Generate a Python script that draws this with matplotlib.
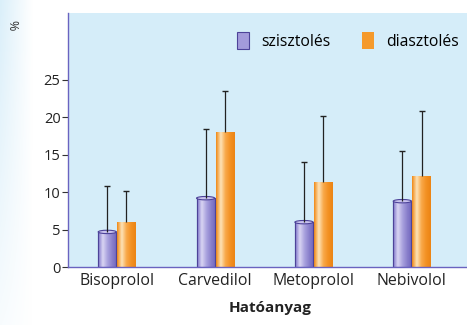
import numpy as np
import matplotlib
matplotlib.use("Agg")
import matplotlib.pyplot as plt
from matplotlib.colors import LinearSegmentedColormap
from matplotlib.patches import Patch, Ellipse

plt.rcParams['font.family'] = ['Open Sans', 'DejaVu Sans']

# data
categories = ['Bisoprolol', 'Carvedilol', 'Metoprolol', 'Nebivolol']
systolic = [4.7, 9.2, 6.0, 8.8]
diastolic = [6.0, 18.0, 11.4, 12.1]
systolic_err = [6.1, 9.2, 8.0, 6.7]
diastolic_err = [4.1, 5.5, 8.7, 8.7]
yticks = [0, 5, 10, 15, 20, 25]
series_names = ['szisztolés', 'diasztolés']

purple_cmap = LinearSegmentedColormap.from_list(
    'pur', ['#7d73c9', '#d9d5f3', '#aaa3de', '#8a80cc', '#6f65bd'])
orange_cmap = LinearSegmentedColormap.from_list(
    'ora', ['#f08a18', '#fde3b8', '#f9a94a', '#f39123', '#ec8414'])

fig = plt.figure(figsize=(4.67, 3.25), dpi=100)

# faint blue gradient strip at the left edge
bg = fig.add_axes([0, 0, 0.07, 1], zorder=0)
gx = np.linspace(1, 0, 50)
gy = np.linspace(1, 0.2, 100)[:, None]
alpha = np.clip(gx[None, :] * gy, 0, 1) * 0.9
img = np.zeros((100, 50, 4))
img[..., 0] = 0.84
img[..., 1] = 0.93
img[..., 2] = 0.98
img[..., 3] = alpha
bg.imshow(img, aspect='auto', extent=[0, 1, 0, 1])
bg.axis('off')

ax = fig.add_axes([0.146, 0.178, 0.854, 0.782], zorder=1)
ax.set_facecolor('#d5edf9')

x = np.arange(len(categories))
w = 0.185
off = 0.0975

bars_s = ax.bar(x - off, systolic, w, color='#a39bdb', edgecolor='#4d4399', lw=0.8, zorder=2)
bars_d = ax.bar(x + off, diastolic, w, color='#f59a2c', edgecolor='none', zorder=2)

# cylinder-like shading inside each bar
grad = np.linspace(0, 1, 64)[None, :]
for bars, cmap in [(bars_s, purple_cmap), (bars_d, orange_cmap)]:
    for b in bars:
        x0, y0 = b.get_x(), b.get_y()
        im = ax.imshow(grad, cmap=cmap, aspect='auto', zorder=2.1,
                       extent=[x0, x0 + b.get_width(), y0, y0 + b.get_height()])
        im.set_clip_path(b)
for b in bars_s:
    ax.bar(b.get_x() + b.get_width() / 2, b.get_height(), b.get_width(),
           facecolor='none', edgecolor='#4d4399', lw=0.8, zorder=2.2)
    ax.add_patch(Ellipse((b.get_x() + b.get_width() / 2, b.get_height()), b.get_width(), 0.45,
                         facecolor='#c9c3ee', edgecolor='#4d4399', lw=0.8, zorder=2.3))

# upper error bars only
for xs, vals, errs in [(x - off, systolic, systolic_err), (x + off, diastolic, diastolic_err)]:
    tops = np.array(vals) + np.array(errs)
    ax.vlines(xs, vals, tops, color='#222222', lw=0.9, zorder=3)
    ax.plot(xs, tops, ls='none', marker='_', ms=5, mew=1.0, color='#222222', zorder=3)

ax.set_xlim(-0.495, 3.56)
ax.set_ylim(0, 33.9)
ax.set_yticks(yticks)
ax.set_yticklabels([str(t) for t in yticks], fontsize=10.5, color='#222222')
ax.set_xticks(x)
ax.set_xticklabels(categories, fontsize=11.4, color='#222222')
ax.tick_params(axis='x', length=0, pad=4)
ax.tick_params(axis='y', length=4.5, width=0.8, color='#333333', pad=1)

for s in ['top', 'right']:
    ax.spines[s].set_visible(False)
for s in ['left', 'bottom']:
    ax.spines[s].set_color('#6a63c0')
    ax.spines[s].set_linewidth(1.0)

fig.text(0.578, 0.052, 'Hatóanyag', ha='center', va='center', fontsize=11, fontweight='bold', color='#222222')
fig.text(0.026, 0.922, '%', ha='center', va='center', rotation=-90, fontsize=9, color='#333333')

handles = [Patch(facecolor='#a39bdb', edgecolor='#4d4399', lw=0.8),
           Patch(facecolor='#f59a2c', edgecolor='none')]
ax.legend(handles, series_names, loc='upper right', bbox_to_anchor=(0.98, 0.925), ncol=2,
          frameon=False, fontsize=11.3, handlelength=0.75, handleheight=1.3,
          handletextpad=0.8, columnspacing=2.0, borderpad=0, borderaxespad=0)

fig.savefig('out.png', dpi=100)
